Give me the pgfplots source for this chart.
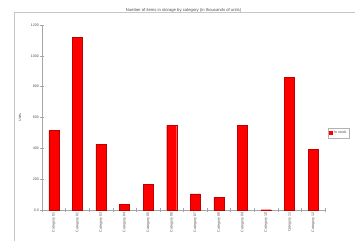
\documentclass[border=0pt]{standalone}
\usepackage{fontspec}
\setmainfont{Liberation Sans}
\usepackage{pgfplots}
\pgfplotsset{compat=1.18}
\definecolor{barred}{RGB}{255,0,0}
\definecolor{baredge}{RGB}{190,0,0}
\begin{document}
\begin{tikzpicture}
\useasboundingbox (0,0) rectangle (355bp,241bp);
\draw[gray!45, line width=0.8bp] (14bp,0) -- (14bp,229bp) -- (355bp,229bp);
\begin{axis}[
  at={(42bp,31bp)}, anchor=south west,
  scale only axis, width=283bp, height=185bp,
  xmin=-0.5, xmax=11.5, ymin=0, ymax=1200,
  axis x line*=bottom, axis y line*=left,
  axis line style={gray!70, line width=0.4bp},
  ytick={0,200,400,600,800,1000,1200},
  yticklabels={0.0,200,400,600,800,1000,1200},
  xtick={0,...,11},
  minor xtick={-0.5,0.5,...,11.5},
  major x tick style={draw=none},
  minor tick length=3bp, major tick length=3bp,
  tick align=center,
  tick style={gray!70, line width=0.4bp},
  xticklabels={Category 01,Category 02,Category 03,Category 04,Category 05,Category 06,Category 07,Category 08,Category 09,Category 10,Category 11,Category 12},
  x tick label style={rotate=90, anchor=east, font=\fontsize{3.6}{4}\selectfont, text=gray!60!black, inner sep=1bp},
  y tick label style={font=\fontsize{3.6}{4}\selectfont, text=gray!60!black, inner sep=1.5bp},
  yticklabel style={/pgf/number format/assume math mode=true},
  title={Number of items in storage by category (in thousands of units)},
  title style={font=\fontsize{4.2}{5}\selectfont, text=gray!60!black, at={(0.5,1)}, anchor=south, yshift=3bp},
  ylabel={Units},
  ylabel style={font=\fontsize{3.6}{4}\selectfont, text=gray!60!black, at={(axis description cs:-0.078,0.5)}, anchor=center},
  legend style={at={(1.01,0.416)}, anchor=west, font=\fontsize{3.6}{4}\selectfont, draw=gray!60, inner sep=0.8bp, legend cell align=left, text=gray!60!black},
  legend image code/.code={\fill[barred] (0bp,-1.5bp) rectangle (3bp,1.5bp);},
  clip=false,
]
\addplot[ybar, bar width=10bp, fill=barred, draw=baredge, line width=0.3bp] coordinates {
  (0,515) (1,1120) (2,426) (3,37) (4,166) (5,549) (6,104) (7,84) (8,549) (9,2) (10,861) (11,394)
};
\addlegendentry{In stock}
\end{axis}
\end{tikzpicture}
\end{document}
